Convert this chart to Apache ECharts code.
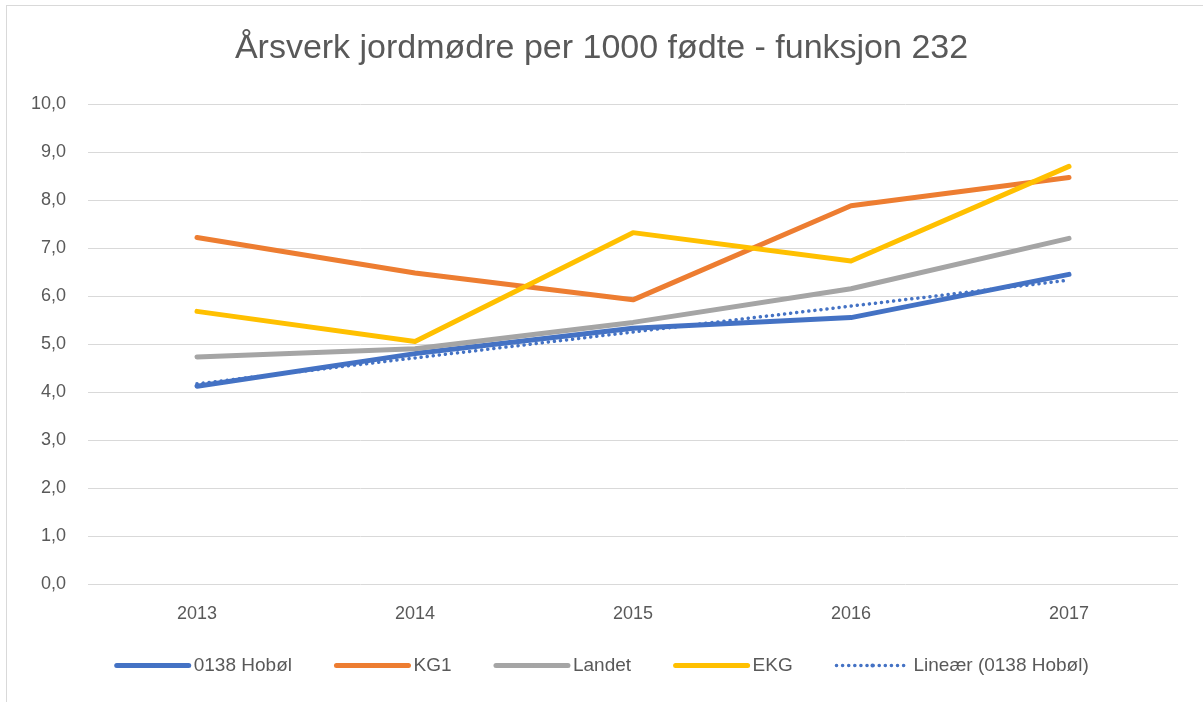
<!DOCTYPE html>
<html>
<head>
<meta charset="utf-8">
<script src="https://cdn.jsdelivr.net/npm/echarts@6/dist/echarts.min.js"></script>
<style>
  html, body { margin: 0; padding: 0; background: #fff; }
  .frame {
    position: absolute; left: 6px; top: 5px; width: 1300px; height: 800px;
    border-left: 1px solid #d9d9d9; border-top: 1px solid #d9d9d9;
  }
  #chart { position: absolute; left: 0; top: 0; width: 1203px; height: 702px; }
</style>
</head>
<body>
<div class="frame"></div>
<div id="chart"></div>
<script>
  // data
  const years = ['2013', '2014', '2015', '2016', '2017']
  const hobol = [4.12, 4.80, 5.33, 5.55, 6.45]
  const kg1 = [7.22, 6.48, 5.92, 7.88, 8.47]
  const landet = [4.73, 4.90, 5.45, 6.15, 7.20]
  const ekg = [5.68, 5.05, 7.32, 6.73, 8.70]
  const trend = [4.17, 4.71, 5.25, 5.79, 6.33]

  const textColor = '#595959'
  const font = 'Liberation Sans'
  const dots = [0.1, 6]

  let myChart = echarts.init(document.getElementById('chart'))

  function lineSeries(name, data, color, width, type) {
    return {
      name: name,
      type: 'line',
      data: data,
      symbol: 'none',
      smooth: false,
      lineStyle: { color: color, width: width, type: type || 'solid', cap: 'round', join: 'round' },
      itemStyle: { color: color },
      emphasis: { disabled: true }
    }
  }

  myChart.setOption({
    animation: false,
    title: {
      text: 'Årsverk jordmødre per 1000 fødte - funksjon 232',
      left: 'center',
      top: 27,
      textStyle: { color: textColor, fontSize: 34, fontWeight: 'normal', fontFamily: font }
    },
    legend: {
      bottom: 22,
      left: 'center',
      itemWidth: 72,
      itemHeight: 5,
      itemGap: 42,
      textStyle: { color: textColor, fontSize: 19, fontFamily: font, padding: [0, 0, 0, 0] },
      data: [
        { name: '0138 Hobøl', lineStyle: { width: 5 } },
        { name: 'KG1', lineStyle: { width: 5 } },
        { name: 'Landet', lineStyle: { width: 5 } },
        { name: 'EKG', lineStyle: { width: 5 } },
        { name: 'Lineær (0138 Hobøl)', lineStyle: { width: 3.5, type: dots, cap: 'round' } }
      ]
    },
    grid: { left: 88, right: 25, top: 104, bottom: 118 },
    xAxis: {
      type: 'category',
      data: years,
      boundaryGap: true,
      axisLine: { show: false },
      axisTick: { show: false },
      axisLabel: { color: textColor, fontSize: 18, fontFamily: font, margin: 21 }
    },
    yAxis: {
      type: 'value',
      min: 0,
      max: 10,
      interval: 1,
      axisLine: { show: false },
      axisTick: { show: false },
      axisLabel: {
        color: textColor, fontSize: 18, fontFamily: font, margin: 22,
        formatter: v => v.toFixed(1).replace('.', ',')
      },
      splitLine: { lineStyle: { color: '#d9d9d9', width: 1 } }
    },
    series: [
      lineSeries('0138 Hobøl', hobol, '#4472C4', 5),
      lineSeries('KG1', kg1, '#ED7D31', 5),
      lineSeries('Landet', landet, '#A5A5A5', 5),
      lineSeries('EKG', ekg, '#FFC000', 5),
      lineSeries('Lineær (0138 Hobøl)', trend, '#4472C4', 3.5, dots)
    ]
  })
</script>
</body>
</html>
